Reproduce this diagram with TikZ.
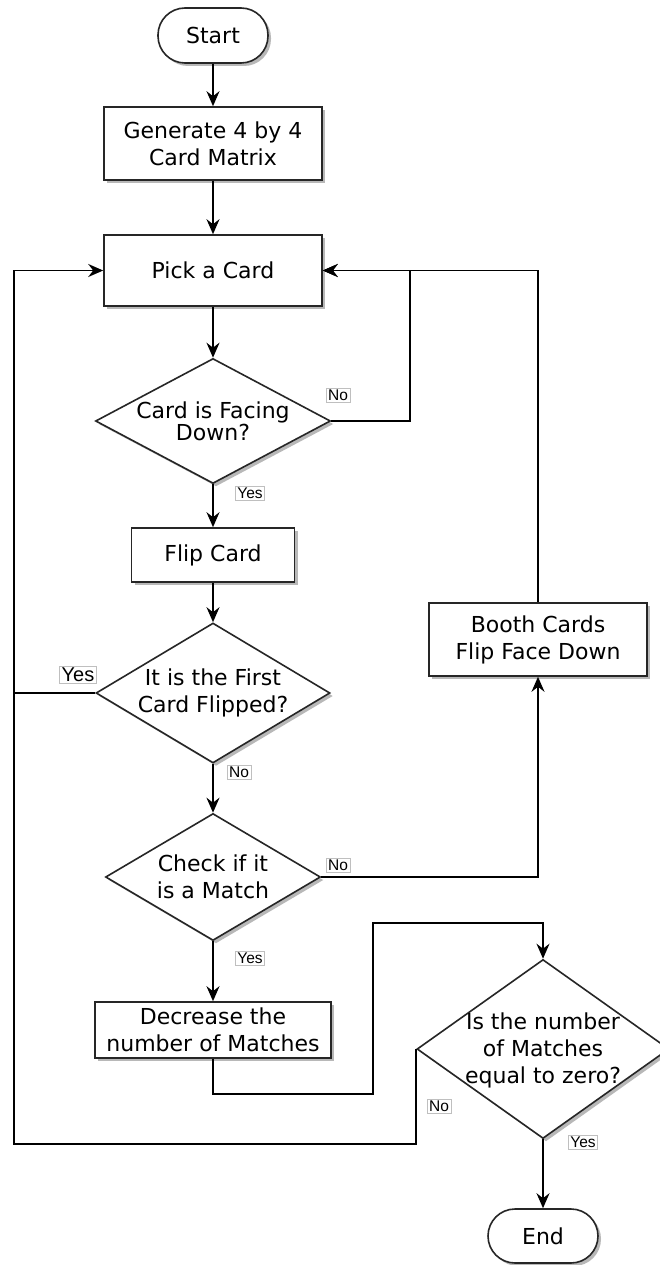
\documentclass[tikz,border=0pt]{standalone}
\usepackage{fontspec}
\setmainfont{DejaVu Sans}
\newfontfamily\lblfont{Liberation Sans}
\usetikzlibrary{shapes.geometric,arrows.meta,shadows}
\begin{document}
\begin{tikzpicture}[x=1pt,y=-1pt,
  base/.style={draw=black!85, line width=1.6pt, fill=white, inner sep=0pt,
    drop shadow={shadow xshift=3pt,shadow yshift=-3pt,fill=black!28,opacity=1}},
  procbox/.style={base, rectangle, font=\fontsize{22}{27}\selectfont, align=center},
  termbox/.style={base, rectangle, rounded corners=27pt, minimum width=110pt,
    minimum height=55pt, font=\fontsize{22}{27}\selectfont},
  decbox/.style={base, diamond},
  dtext/.style={font=\fontsize{22}{27}\selectfont, align=center, inner sep=0pt},
  lbl/.style={draw=black!25, line width=0.7pt, fill=white, inner xsep=2pt,
    inner ysep=1.5pt, font=\lblfont\fontsize{15.5}{15.5}\selectfont},
  flow/.style={draw=black, line width=1.6pt,
    -{Stealth[length=15pt,width=13pt,inset=5pt]}},
  link/.style={draw=black, line width=1.6pt}
]
\useasboundingbox[fill=white] (0,0) rectangle (660,1265);

% terminators
\node[termbox] (start) at (213,35.5) {Start};
\node[termbox, minimum height=54pt] (end) at (543,1236) {End};

% process boxes
\node[procbox, minimum width=218pt, minimum height=73pt] (gen) at (213,143.5)
  {Generate 4 by 4\\Card Matrix};
\node[procbox, minimum width=218pt, minimum height=71pt] (pick) at (213,270.5)
  {Pick a Card};
\node[procbox, minimum width=163pt, minimum height=54pt] (flip) at (213,555)
  {Flip Card};
\node[procbox, minimum width=218pt, minimum height=73pt] (booth) at (538,639.5)
  {Booth Cards\\Flip Face Down};
\node[procbox, minimum width=236pt, minimum height=56pt] (dec) at (213,1030)
  {Decrease the\\number of Matches};

% decisions
\node[decbox, minimum width=235pt, minimum height=125pt] (d1) at (213,421) {};
\node[dtext, font=\fontsize{22}{20}\selectfont] (t1) at (d1.center) {Card is Facing\\Down?};
\node[decbox, minimum width=234pt, minimum height=140pt] (d2) at (213,693) {};
\node[dtext] (t2) at (d2.center) {It is the First\\Card Flipped?};
\node[decbox, minimum width=215pt, minimum height=127pt] (d3) at (213,877) {};
\node[dtext] (t3) at (d3.center) {Check if it\\is a Match};
\node[decbox, minimum width=252pt, minimum height=179pt] (d4) at (543,1049) {};
\node[dtext] (t4) at (543,1050) {Is the number\\of Matches\\equal to zero?};

% bend points
\coordinate (r1) at (410,421);
\coordinate (r1t) at (410,270.5);
\coordinate (l2) at (14,693);
\coordinate (l2t) at (14,270.5);
\coordinate (r3) at (538,877);
\coordinate (bt) at (538,270.5);
\coordinate (m1) at (213,1094);
\coordinate (m2) at (373,1094);
\coordinate (m3) at (373,923);
\coordinate (m4) at (543,923);
\coordinate (n2) at (14,1144);

% connectors
\draw[flow] (start) -- (gen);
\draw[flow] (gen) -- (pick);
\draw[flow] (pick.south) -- (d1.north);
\draw[flow] (d1.east) -- (r1) -- (r1t) -- (pick.east);
\draw[flow] (d1.south) -- (flip.north);
\draw[flow] (flip.south) -- (d2.north);
\draw[flow] (d2.west) -- (l2) -- (l2t) -- (pick.west);
\draw[flow] (d2.south) -- (d3.north);
\draw[flow] (d3.east) -- (r3) -- (booth.south);
\draw[flow] (booth.north) -- (bt) -- (pick.east);
\draw[flow] (d3.south) -- (dec.north);
\draw[flow] (dec.south) -- (m1) -- (m2) -- (m3) -- (m4) -- (d4.north);
\draw[link] (d4.west) -- (d4.west |- n2) -- (n2) -- (l2);
\draw[flow] (d4.south) -- (end.north);

% labels
\node[lbl] (no1) at (338,395) {No};
\node[lbl] (yes1) at (250,493) {Yes};
\node[lbl, font=\lblfont\fontsize{20}{20}\selectfont] (yes2) at (78,675) {Yes};
\node[lbl] (no2) at (239,772) {No};
\node[lbl] (no3) at (338,865) {No};
\node[lbl] (yes3) at (250,958) {Yes};
\node[lbl] (no4) at (439,1106) {No};
\node[lbl] (yes4) at (583,1142) {Yes};
\end{tikzpicture}
\end{document}
